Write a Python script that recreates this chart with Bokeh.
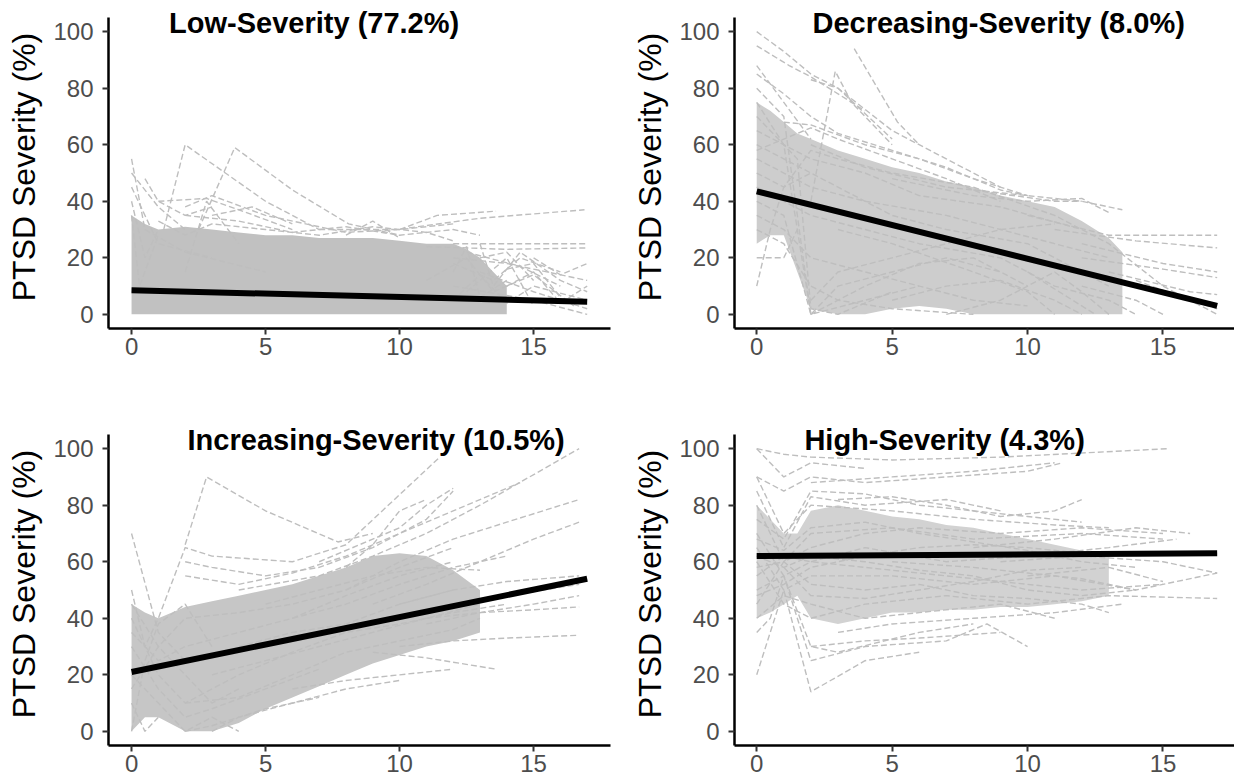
from bokeh.plotting import figure
from bokeh.layouts import column, row
from bokeh.models import Range1d, Label, FixedTicker
from bokeh.embed import file_html
from bokeh.resources import INLINE

# ---------------- data ----------------
TITLES = ["Low-Severity (77.2%)", "Decreasing-Severity (8.0%)",
          "Increasing-Severity (10.5%)", "High-Severity (4.3%)"]
Y_LABEL = "PTSD Severity (%)"
X_TICKS = [0, 5, 10, 15]
Y_TICKS = [0, 20, 40, 60, 80, 100]

MEAN_X = [0, 17]
MEAN_LOW = [8.5, 4.5]
MEAN_DEC = [43.5, 3.0]
MEAN_INC = [21.0, 54.0]
MEAN_HIGH = [62.0, 63.0]

# dense cores of the individual trajectories (lower / upper edge)
ENV_LOW_T = [0, 0.5, 1, 2, 3, 4, 5, 6, 7, 8, 9, 10, 11, 12, 12.5, 13, 13.5, 14]
ENV_LOW_LO = [0, 0, 0, 0, 0, 0, 0, 0, 0, 0, 0, 0, 0, 0, 0, 0, 0, 0]
ENV_LOW_HI = [35, 32, 30, 31, 30, 29, 28, 28, 27, 27, 27, 26, 25, 25, 23, 20, 15, 10]

ENV_DEC_T = [0, 0.5, 1, 1.5, 2, 3, 4, 5, 6, 7, 8, 9, 10, 11, 12, 13, 13.5]
ENV_DEC_LO = [25, 28, 28, 15, 2, 0, 0, 2, 3, 2, 0, 0, 0, 0, 0, 0, 0]
ENV_DEC_HI = [75, 72, 68, 64, 62, 58, 55, 52, 50, 47, 45, 42, 40, 38, 33, 27, 22]

ENV_INC_T = [0, 0.5, 1, 2, 3, 4, 5, 6, 7, 8, 9, 10, 11, 12, 13]
ENV_INC_LO = [0, 5, 5, 0, 0, 3, 8, 12, 16, 20, 24, 27, 30, 32, 35]
ENV_INC_HI = [45, 42, 40, 44, 46, 48, 50, 52, 55, 58, 62, 63, 62, 57, 50]

ENV_HIGH_T = [0, 0.5, 1, 1.5, 2, 3, 4, 5, 6, 7, 8, 9, 10, 11, 12, 13]
ENV_HIGH_LO = [40, 42, 45, 48, 40, 38, 40, 42, 42, 43, 43, 44, 44, 45, 46, 48]
ENV_HIGH_HI = [80, 75, 70, 70, 78, 80, 78, 76, 75, 73, 72, 70, 68, 66, 64, 62]

# individual trajectories: (time, severity) pairs
TRAJ_LOW = [
    [(0, 55), (0.5, 30), (2, 22), (5, 15)],
    [(0, 50), (1, 38), (2, 30)],
    [(0, 45), (1, 25), (3, 20)],
    [(0, 40), (0.5, 20), (1, 30)],
    [(0, 35), (0.3, 10), (1, 28)],
    [(0.5, 48), (1, 40), (2, 35), (3, 38)],
    [(1.2, 30), (2, 60), (3.5, 50), (5, 40), (7, 30)],
    [(2.5, 30), (3.85, 59), (6, 44), (8.1, 32), (10, 28)],
    [(1, 40), (2.8, 41), (4, 37), (6, 30)],
    [(2, 15), (2.8, 40), (4, 25)],
    [(2, 38), (3, 42), (5, 35), (8, 29), (10, 30), (12, 32)],
    [(3, 35), (4.5, 38), (6, 32)],
    [(1, 33), (2, 28), (3, 32), (5, 30), (7, 28), (9, 31), (11, 29), (12, 26)],
    [(2, 35), (4, 33), (6, 29), (8, 31), (10, 28), (12, 30), (13, 28)],
    [(8, 28), (9, 33), (10, 27)],
    [(7, 30), (9.9, 30), (13, 34), (16.9, 37)],
    [(10, 30), (11.4, 35), (13.6, 36.5)],
    [(12, 25), (15, 25), (17, 25)],
    [(11, 24), (14, 23), (17, 23.5)],
    [(12, 20), (14, 18), (17, 12)],
    [(13, 15), (15, 8), (17, 2)],
    [(12, 10), (15, 5), (17, 0)],
    [(12.5, 22), (14.5, 17), (16, 10)],
    [(13, 20), (14, 22), (15, 12)],
    [(14, 16), (15, 18), (16, 6)],
    [(12, 18), (13.5, 12), (14.5, 20), (16, 15)],
    [(12, 5), (13, 14), (14, 4), (15, 10), (17, 5)],
    [(11, 12), (12.5, 20), (13.5, 8), (15, 14), (16.5, 3)],
    [(12, 15), (12.5, 24), (13, 6), (14, 12)],
    [(13, 25), (13.5, 10), (14.5, 22), (16, 12), (17, 8)],
    [(12.5, 8), (14, 20), (15, 3)],
    [(14, 10), (15, 15), (16, 4), (17, 10)],
    [(15, 20), (16, 14), (17, 18)],
]

TRAJ_DEC = [
    [(0, 100), (1, 93), (2, 85), (3, 80), (5, 62)],
    [(0, 95), (1.2, 88), (2, 84), (4, 72)],
    [(0, 88), (1, 75), (2, 62)],
    [(0, 85), (1, 78), (2, 70), (3, 64), (5, 58), (7, 52), (9, 44), (10, 42)],
    [(0, 80), (1, 70), (2, 0)],
    [(0, 75), (1, 60), (2, 0), (4, 5), (6, 10)],
    [(0, 70), (1.5, 55), (2, 2), (3, 0), (5, 8)],
    [(0, 10), (0.5, 30), (1, 45), (2, 50)],
    [(0, 20), (1, 20), (1.5, 30)],
    [(2, 40), (2.9, 86), (3.5, 75), (5, 60)],
    [(3.6, 94), (5.2, 68), (6, 60)],
    [(2, 83), (3, 80), (5, 65), (7, 55), (9, 45)],
    [(1, 68), (2, 67), (4, 60), (6, 55), (8, 48), (10, 42)],
    [(2, 60), (4, 52), (7, 45), (9, 43), (12, 40), (13.5, 37)],
    [(5, 48), (8, 42), (10, 40), (12, 41), (13, 36)],
    [(8, 44), (11, 40), (12, 40)],
    [(10, 35), (13, 28), (17, 28)],
    [(11, 30), (14, 26), (17, 23.5)],
    [(12, 25), (15, 18), (17, 15)],
    [(12, 20), (15, 16), (17, 13)],
    [(13, 15), (16, 8), (17, 7)],
    [(14, 12), (16, 5), (17, 2)],
    [(12, 10), (14, 5), (15, 0)],
    [(10, 15), (12.5, 0)],
    [(3, 30), (5, 25), (8, 15), (10, 8), (11, 0)],
    [(2, 0), (4, 10), (6, 18), (8, 20), (10, 10)],
    [(2, 5), (3, 15), (5, 20), (7, 25), (9, 30), (11, 32)],
    [(5, 5), (7, 10), (9, 12), (11, 5), (12, 0)],
    [(7, 0), (9, 5), (10, 10), (11, 15), (12, 8), (13, 0)],
    [(0, 45), (1, 40), (2, 35), (4, 30), (6, 25), (9, 20), (11, 10), (13, 5), (14, 0)],
    [(0, 60), (1, 55), (3, 45), (5, 35), (7, 30), (10, 25), (12, 15), (13, 10)],
    [(0, 35), (1, 30), (2, 20), (4, 15), (6, 10), (8, 5), (10, 3)],
    [(0, 30), (1, 25), (2, 10), (3, 5), (5, 2), (8, 0)],
    [(0, 55), (1, 50), (2, 45), (4, 40), (7, 35), (9, 30), (11, 25), (13, 20)],
    [(0, 65), (1, 60), (2, 55), (4, 50), (6, 42), (9, 38), (12, 30)],
    [(0, 50), (1, 45), (2, 58), (3, 55), (5, 50), (8, 45), (11, 35), (13, 25), (15, 10), (17, 0)],
    [(0, 40), (1, 35), (2, 0), (3, 10), (5, 15), (7, 20), (9, 15)],
    [(0, 58), (1, 62), (2, 66), (3, 62), (5, 55), (7, 48), (9, 40)],
]

TRAJ_INC = [
    [(0, 70), (1, 35), (2, 25)],
    [(0, 50), (0.5, 30), (1, 40), (2, 65), (3, 62), (6, 60), (8, 66), (11.5, 97)],
    [(2, 66), (2.8, 90), (5, 78), (7.7, 67), (9, 70)],
    [(2, 60), (3, 58), (5, 55), (7, 58), (9, 65), (11, 75), (12, 85)],
    [(2, 55), (4, 52), (6, 56), (8, 62), (10, 70), (12, 78), (14.5, 88)],
    [(4, 50), (7, 55), (9, 62), (11, 70), (13, 80), (16.7, 100)],
    [(7, 60), (9, 68), (10, 72), (11, 80), (12, 86)],
    [(8, 58), (9, 66), (10, 78), (11, 82)],
    [(8, 50), (10, 60), (12, 68), (14, 74), (16.7, 82)],
    [(9, 45), (11, 52), (13, 60), (15, 68), (16.7, 74)],
    [(10, 45), (12, 50), (14, 53), (16.7, 55)],
    [(10, 40), (12, 44), (14, 48), (16.7, 52)],
    [(11, 38), (13, 42), (15, 45), (16.7, 48)],
    [(11, 40), (13, 42), (15, 43), (16.7, 44)],
    [(10, 30), (12, 32), (14, 33), (16.7, 34)],
    [(9, 28), (11, 26), (13.6, 22)],
    [(6, 15), (8, 18), (10, 20), (12, 22)],
    [(3, 0), (4, 5), (6, 10), (8, 15), (10, 18)],
    [(2, 0), (3, 2), (5, 8), (7, 12)],
    [(0, 45), (1, 30), (2, 20), (3, 10), (4, 15)],
    [(0, 30), (1, 15), (2, 5), (3, 8), (5, 15), (7, 22)],
    [(0, 20), (1, 10), (2, 0), (3, 5), (4, 0)],
    [(0, 10), (0.5, 0), (1, 5)],
    [(0, 0), (0.5, 25), (1, 38), (2, 45), (3, 30)],
    [(5, 45), (7, 50), (9, 55), (11, 58), (13, 57)],
    [(6, 40), (8, 45), (10, 52), (12, 58), (14, 62)],
    [(4, 30), (6, 35), (8, 38), (10, 45), (12, 50)],
    [(3, 20), (5, 25), (7, 30), (9, 35), (11, 40), (13, 45)],
    [(0, 35), (1, 25), (2, 30), (4, 35), (6, 40), (8, 48), (10, 55), (12, 60)],
    [(0, 40), (1, 20), (2, 10), (4, 20), (6, 28), (8, 35), (10, 38), (12, 42), (14, 45)],
    [(0, 15), (1, 30), (2, 40), (4, 42), (6, 45), (8, 50), (10, 58), (12, 65)],
    [(2, 10), (4, 12), (6, 20), (8, 28), (10, 32), (12, 36), (13, 40)],
]

TRAJ_HIGH = [
    [(0, 100), (1, 98), (2, 97), (5, 96), (9, 97), (15.2, 100)],
    [(0, 100), (1, 90), (2, 95), (4, 93)],
    [(0, 90), (1, 85), (2, 90), (4, 88), (7, 90), (10, 92), (11.3, 95)],
    [(0, 90), (1, 70), (2, 80), (5, 78), (8, 75), (11, 73), (13, 72)],
    [(0, 85), (1, 65), (2, 83), (4, 80), (7, 82), (9, 78)],
    [(3, 82), (5, 83), (7, 80), (9, 76), (11, 78), (12, 82)],
    [(0, 80), (1, 60), (2, 70), (5, 72), (8, 68), (12, 70), (15, 68)],
    [(0, 75), (1, 68), (2, 85), (4, 84), (6, 80), (8, 78), (10, 76), (12, 74)],
    [(0, 70), (1, 55), (2, 60), (4, 65), (7, 60), (10, 62), (13, 65), (15.5, 68)],
    [(0, 68), (1, 64), (2, 72), (4, 74), (6, 70), (8, 67), (10, 64), (12, 60), (14, 58)],
    [(0, 65), (1, 50), (2, 55), (5, 55), (8, 52), (11, 55), (14, 50), (17, 56)],
    [(0, 62), (1, 58), (2, 62), (4, 60), (6, 57), (8, 55), (10, 50), (12, 48), (14, 50)],
    [(0, 60), (1, 45), (2, 40), (4, 45), (7, 48), (10, 45), (13, 48), (17, 47)],
    [(0, 58), (1, 60), (2, 52), (4, 50), (6, 52), (8, 48), (10, 47), (12, 45), (13, 42)],
    [(0, 55), (1, 62), (2, 60), (4, 58), (7, 55), (10, 52), (12, 50), (15, 52)],
    [(0, 50), (1, 55), (2, 30), (3, 28), (6, 35), (8, 38)],
    [(0, 48), (1, 52), (2, 58), (4, 62), (6, 65), (8, 66), (10, 65), (12, 63)],
    [(0, 45), (1, 60), (2, 65), (4, 70), (6, 72), (9, 70), (12, 72), (15, 70)],
    [(0, 40), (1, 48), (2, 45), (4, 40), (6, 42), (9, 45), (11, 40)],
    [(0, 35), (0.5, 40), (1, 55), (2, 25), (4, 30), (7, 32), (8.5, 38), (10, 30)],
    [(0, 20), (0.5, 35), (1, 50), (2, 14), (4, 25), (6, 28)],
    [(1, 58), (2, 48), (4, 47), (6, 50), (8, 53), (10, 57), (12, 58)],
    [(2, 88), (5, 90), (8, 92), (11, 95)],
    [(3, 35), (5, 38), (8, 40), (11, 42), (13.5, 45)],
    [(2, 30), (4, 32), (6, 33), (9, 35)],
    [(9, 60), (12, 62), (15, 60), (17, 56)],
    [(10, 55), (13, 58), (15, 53)],
    [(8, 65), (11, 68), (14, 72), (16, 70)],
    [(5, 60), (8, 58), (10, 56), (12, 54), (14, 50)],
]

# ---------------- styling / layout ----------------
FONT = "Liberation Sans"
TRAJ_COLOR = "#BEBEBE"
Y_AXIS_SPAN = (-5, 105)


def make_panel(title, title_xy, env, env_color, traj, mean, left, top):
    if left:
        xr = Range1d(-0.86, 17.87)
        fw, bl, br = 502, 108, 10
    else:
        xr = Range1d(-0.82, 17.64)
        fw, bl, br = 500, 114, 0
    if top:
        bt, bb = 5, 70
    else:
        bt, bb = 24, 30
    # frame extends a little above the axis so the in-panel title is not clipped
    p = figure(frame_width=fw, frame_height=323, x_range=xr, y_range=Range1d(-5, 109.25),
               min_border_left=bl, min_border_right=br, min_border_top=bt, min_border_bottom=bb,
               output_backend="svg", toolbar_location=None)
    p.outline_line_color = None
    p.grid.visible = False
    p.background_fill_color = "white"
    p.border_fill_color = "white"

    t, lo, hi = env
    p.varea(x=t, y1=lo, y2=hi, fill_color=env_color, fill_alpha=1.0)
    xs = [[pt[0] for pt in tr] for tr in traj]
    ys = [[pt[1] for pt in tr] for tr in traj]
    p.multi_line(xs, ys, line_color=TRAJ_COLOR, line_width=1.4, line_dash="6 3")
    p.line(MEAN_X, mean, line_color="black", line_width=6)

    for ax in (p.xaxis[0], p.yaxis[0]):
        ax.axis_line_width = 2.5
        ax.axis_line_color = "black"
        ax.major_tick_line_color = "#333333"
        ax.major_tick_line_width = 2
        ax.major_tick_out = 6
        ax.major_tick_in = 0
        ax.minor_tick_line_color = None
        ax.major_label_text_font = FONT
        ax.major_label_text_font_size = "24px"
        ax.major_label_text_color = "#4D4D4D"
    p.yaxis.bounds = Y_AXIS_SPAN
    p.xaxis.ticker = FixedTicker(ticks=X_TICKS)
    p.yaxis.ticker = FixedTicker(ticks=Y_TICKS)
    p.xaxis.major_label_standoff = 3
    p.yaxis.major_label_standoff = 9
    p.yaxis.axis_label = Y_LABEL
    p.yaxis.axis_label_text_font = FONT
    p.yaxis.axis_label_text_font_size = "32px"
    p.yaxis.axis_label_text_font_style = "normal"
    p.yaxis.axis_label_text_color = "black"
    p.yaxis.axis_label_standoff = 8

    p.add_layout(Label(x=title_xy[0], y=title_xy[1], text=title, text_font=FONT,
                       text_font_size="29px", text_font_style="bold", text_color="black",
                       text_align="left", text_baseline="alphabetic"))
    return p


p1 = make_panel(TITLES[0], (1.40, 103.2), (ENV_LOW_T, ENV_LOW_LO, ENV_LOW_HI), "#C1C1C1",
                TRAJ_LOW, MEAN_LOW, True, True)
p2 = make_panel(TITLES[1], (2.06, 103.2), (ENV_DEC_T, ENV_DEC_LO, ENV_DEC_HI), "#CDCDCD",
                TRAJ_DEC, MEAN_DEC, False, True)
p3 = make_panel(TITLES[2], (2.09, 103.0), (ENV_INC_T, ENV_INC_LO, ENV_INC_HI), "#C6C6C6",
                TRAJ_INC, MEAN_INC, True, False)
p4 = make_panel(TITLES[3], (1.76, 103.0), (ENV_HIGH_T, ENV_HIGH_LO, ENV_HIGH_HI), "#D2D2D2",
                TRAJ_HIGH, MEAN_HIGH, False, False)

layout = column(row(p1, p2), row(p3, p4))
open("out.html", "w").write(file_html(layout, INLINE))
